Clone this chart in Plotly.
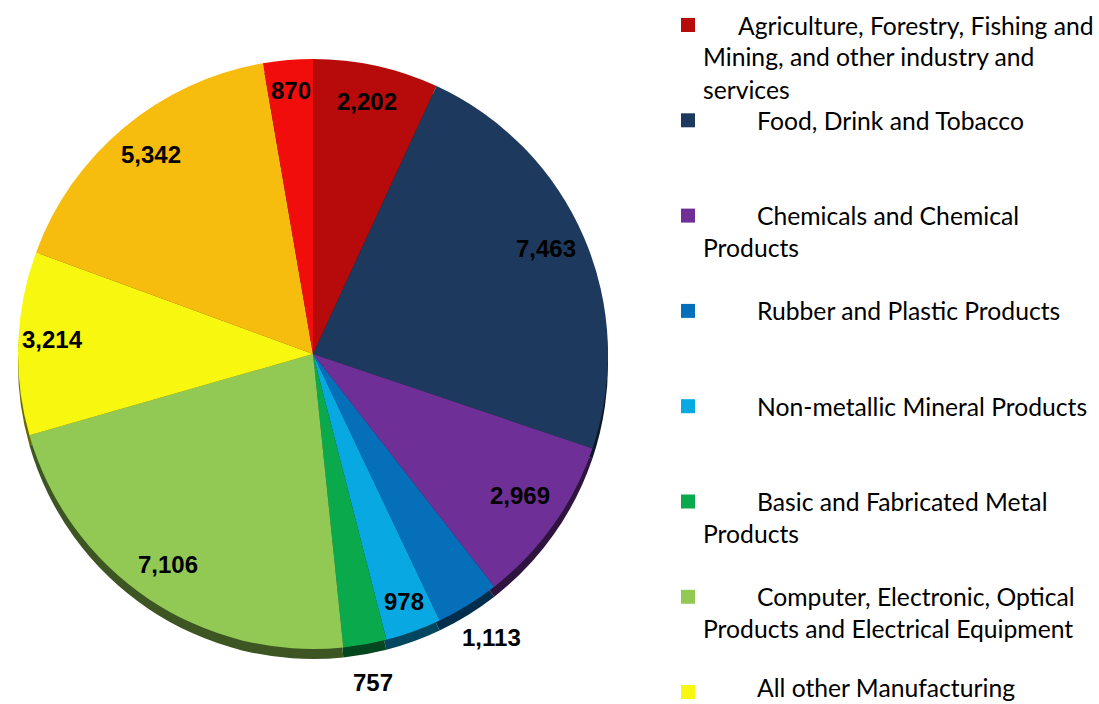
import math
import plotly.graph_objects as go

W, H = 1099, 704

# ---- data -------------------------------------------------------------
categories = [
    "Agriculture, Forestry, Fishing and Mining, and other industry and services",
    "Food, Drink and Tobacco",
    "Chemicals and Chemical Products",
    "Rubber and Plastic Products",
    "Non-metallic Mineral Products",
    "Basic and Fabricated Metal Products",
    "Computer, Electronic, Optical Products and Electrical Equipment",
    "All other Manufacturing",
    "Other sector (legend cut off) A",
    "Other sector (legend cut off) B",
]
values = [2202, 7463, 2969, 1113, 978, 757, 7106, 3214, 5342, 870]

# legend text as wrapped in the reference (only the first 8 entries are visible)
legend_lines = [
    ["Agriculture, Forestry, Fishing and", "Mining, and other industry and", "services"],
    ["Food, Drink and Tobacco"],
    ["Chemicals and Chemical", "Products"],
    ["Rubber and Plastic Products"],
    ["Non-metallic Mineral Products"],
    ["Basic and Fabricated Metal", "Products"],
    ["Computer, Electronic, Optical", "Products and Electrical Equipment"],
    ["All other Manufacturing"],
]

# ---- styles -------------------------------------------------------------
colors = ["#B70A0A", "#1D3A5E", "#6E3097", "#066FBA", "#08A8E3",
          "#0AA94C", "#92C955", "#F8F70F", "#F6BC0E", "#F20D0D"]
label_r = [0.86, 0.86, 0.86, 1.15, 0.91, 1.15, 0.88, 0.885, 0.86, 0.88]


def darker(hexc, f=0.42):
    r, g, b = (int(hexc[i:i + 2], 16) for i in (1, 3, 5))
    return "#%02X%02X%02X" % (int(r * f), int(g * f), int(b * f))


rim_colors = [darker(c) for c in colors]

# pie geometry in pixels
CX, CY, R = 313, 354, 295
RIM = 10
LABEL_DY = -5  # apex of the tilted pie sits a little above the ellipse centre


def dom(cx, cy, r):
    return dict(x=[(cx - r) / W, (cx + r) / W],
                y=[1 - (cy + r) / H, 1 - (cy - r) / H])


fig = go.Figure()
# 3D rim (shadow edge) drawn behind
fig.add_trace(go.Pie(
    values=values, labels=categories, sort=False, direction="clockwise",
    rotation=0, marker=dict(colors=rim_colors, line=dict(width=0)),
    textinfo="none", showlegend=False, hoverinfo="skip",
    domain=dom(CX, CY + RIM, R),
))
fig.add_trace(go.Pie(
    values=values, labels=categories, sort=False, direction="clockwise",
    rotation=0, marker=dict(colors=colors, line=dict(width=0)),
    textinfo="none", showlegend=False, hoverinfo="label+value",
    domain=dom(CX, CY, R),
))

# value labels at slice mid-angles
total = sum(values)
cum = 0
annotations = []
for v, rf in zip(values, label_r):
    mid = (cum + v / 2) / total * 2 * math.pi
    cum += v
    px = CX + rf * R * math.sin(mid)
    py = CY + LABEL_DY - rf * R * math.cos(mid)
    annotations.append(dict(
        x=px / W, y=1 - py / H, xref="paper", yref="paper",
        text=f"{v:,}", showarrow=False, xanchor="center", yanchor="middle",
        font=dict(family="Liberation Sans, Arial", size=24, color="#000000", weight="bold"),
    ))

# legend drawn as text + squares
ITEM_Y0, ITEM_STEP, LINE_H = 25, 95.3, 32
MARK_X, MARK_S = 688, 14
FIRST_X, CONT_X = 755, 701
shapes = []
for i, lines in enumerate(legend_lines):
    y0 = min(ITEM_Y0 + i * ITEM_STEP, 687)
    shapes.append(dict(
        type="rect", xref="paper", yref="paper",
        x0=(MARK_X - MARK_S / 2) / W, x1=(MARK_X + MARK_S / 2) / W,
        y0=1 - (y0 + 5 + MARK_S / 2) / H if y0 == 687 else 1 - (y0 + MARK_S / 2) / H,
        y1=1 - (y0 + 5 - MARK_S / 2) / H if y0 == 687 else 1 - (y0 - MARK_S / 2) / H,
        fillcolor=colors[i], line=dict(width=0),
    ))
    for j, t in enumerate(lines):
        x = (736 if i == 0 else FIRST_X) if j == 0 else CONT_X
        annotations.append(dict(
            x=x / W, y=1 - (y0 + j * LINE_H) / H, xref="paper", yref="paper",
            text=t, showarrow=False, xanchor="left", yanchor="middle",
            font=dict(family="Lato, Open Sans", size=24.7, color="#000000"),
        ))

fig.update_layout(
    width=W, height=H, margin=dict(l=0, r=0, t=0, b=0),
    paper_bgcolor="white", plot_bgcolor="white",
    annotations=annotations, shapes=shapes,
)

fig.write_html("out.html")
